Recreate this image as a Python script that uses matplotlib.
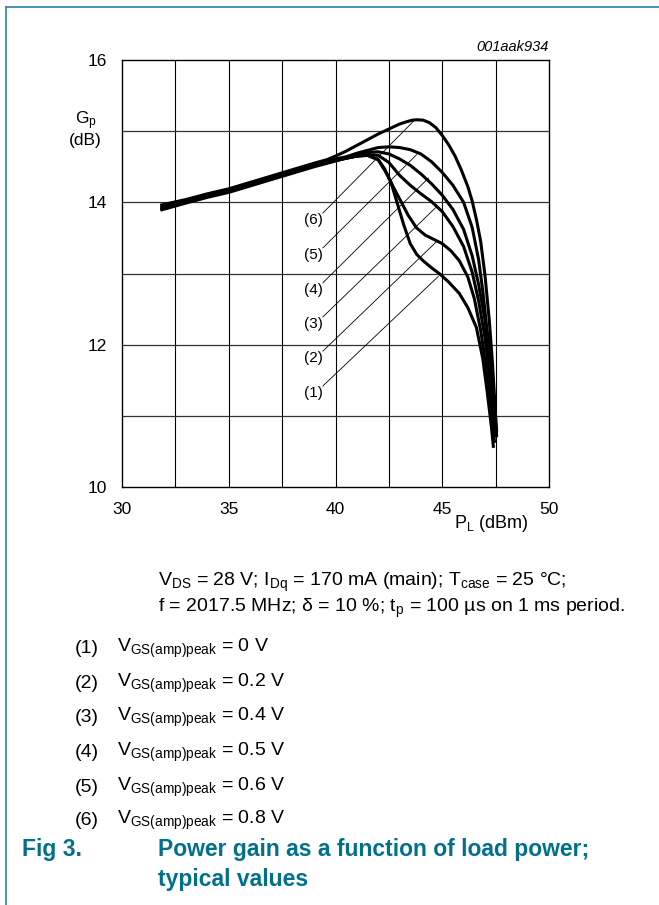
import matplotlib

matplotlib.use("Agg")
import matplotlib.pyplot as plt
from matplotlib.lines import Line2D

plt.rcParams.update({
    "font.family": ["Liberation Sans", "DejaVu Sans"],
    "mathtext.default": "regular",
    "font.size": 12.5,
})

W, H = 659, 905
TEAL = "#00708c"
FRAME = "#2b82a6"

# Gain curves, one per V_GS(amp)peak setting: (P_L dBm, G_p dB)
P1 = [31.8, 33, 34, 35, 36, 37, 38, 39, 40, 40.5, 41.0, 41.5, 42.0, 42.3, 42.6, 42.9, 43.2, 43.5, 43.8,
      44.1, 44.5, 44.9, 45.3, 45.8, 46.2, 46.6, 46.9, 47.1, 47.3, 47.4]
G1 = [13.89, 13.99, 14.07, 14.14, 14.23, 14.32, 14.41, 14.50, 14.58, 14.62, 14.65, 14.66, 14.60, 14.47, 14.28,
      13.98, 13.68, 13.42, 13.27, 13.18, 13.08, 12.99, 12.88, 12.72, 12.52, 12.24, 11.80, 11.35, 10.85, 10.55]

P2 = [31.8, 33, 34, 35, 36, 37, 38, 39, 40, 40.5, 41.0, 41.5, 42.0, 42.4, 42.7, 43.0, 43.4, 43.8, 44.2,
      44.6, 45.0, 45.4, 45.8, 46.2, 46.5, 46.8, 47.0, 47.2, 47.4, 47.45]
G2 = [13.90, 14.00, 14.08, 14.15, 14.24, 14.33, 14.42, 14.51, 14.59, 14.62, 14.65, 14.66, 14.60, 14.40, 14.22,
      14.05, 13.82, 13.64, 13.54, 13.48, 13.42, 13.32, 13.18, 12.95, 12.65, 12.20, 11.80, 11.30, 10.80, 10.62]

P3 = [31.8, 33, 34, 35, 36, 37, 38, 39, 40, 40.5, 41.0, 41.5, 42.0, 42.5, 43.0, 43.5, 44.0, 44.5, 45.0,
      45.5, 46.0, 46.4, 46.7, 47.0, 47.2, 47.4, 47.5]
G3 = [13.92, 14.01, 14.09, 14.16, 14.25, 14.34, 14.43, 14.52, 14.59, 14.62, 14.65, 14.67, 14.66, 14.56, 14.38,
      14.24, 14.12, 14.01, 13.87, 13.66, 13.38, 13.02, 12.62, 12.10, 11.60, 11.00, 10.70]

P4 = [31.8, 33, 34, 35, 36, 37, 38, 39, 40, 40.5, 41.0, 41.5, 42.0, 42.5, 43.0, 43.5, 44.0, 44.5, 45.0,
      45.5, 46.0, 46.4, 46.7, 47.0, 47.2, 47.4, 47.55]
G4 = [13.93, 14.02, 14.10, 14.17, 14.26, 14.35, 14.44, 14.53, 14.60, 14.63, 14.67, 14.70, 14.71, 14.68, 14.61,
      14.52, 14.40, 14.26, 14.10, 13.90, 13.62, 13.25, 12.85, 12.35, 11.85, 11.20, 10.72]

P5 = [31.8, 33, 34, 35, 36, 37, 38, 39, 40, 40.5, 41.0, 41.5, 42.0, 42.5, 43.0, 43.5, 44.0, 44.5, 45.0,
      45.5, 46.0, 46.4, 46.7, 46.9, 47.1, 47.25, 47.4, 47.55]
G5 = [13.95, 14.03, 14.11, 14.18, 14.27, 14.36, 14.45, 14.54, 14.61, 14.64, 14.69, 14.73, 14.77, 14.78, 14.77,
      14.74, 14.68, 14.57, 14.42, 14.24, 14.00, 13.65, 13.20, 12.75, 12.20, 11.90, 11.20, 10.70]

P6 = [31.8, 33, 34, 35, 36, 37, 38, 39, 39.6, 40.0, 40.5, 41.0, 41.5, 42.0, 42.5, 43.0, 43.3, 43.6, 43.8,
      44.1, 44.4, 44.7, 45.0, 45.3, 45.6, 45.9, 46.2, 46.4, 46.6, 46.8, 47.0, 47.2, 47.35, 47.5, 47.55]
G6 = [13.96, 14.04, 14.12, 14.19, 14.28, 14.37, 14.46, 14.55, 14.60, 14.65, 14.72, 14.80, 14.88, 14.96, 15.03,
      15.10, 15.13, 15.155, 15.16, 15.155, 15.12, 15.05, 14.94, 14.81, 14.65, 14.45, 14.22, 14.02, 13.76, 13.45,
      12.98, 12.35, 11.75, 11.00, 10.78]

CURVES = [(P1, G1), (P2, G2), (P3, G3), (P4, G4), (P5, G5), (P6, G6)]

# Curve tags and their leader lines
TAGS = ["(1)", "(2)", "(3)", "(4)", "(5)", "(6)"]
TAG_X = 38.95
TAG_Y = [11.32, 11.81, 12.29, 12.77, 13.26, 13.75]
LEAD_X0 = 39.41
LEAD_END_X = [44.82, 44.74, 44.74, 44.35, 43.80, 43.72]
LEAD_END_Y = [12.96, 13.45, 13.94, 14.34, 14.67, 15.16]

VGS = ["0", "0.2", "0.4", "0.5", "0.6", "0.8"]

fig = plt.figure(figsize=(W / 100, H / 100), dpi=100)
ax = fig.add_axes([122 / W, 1 - 487 / H, 427 / W, 427 / H])

ax.set_xlim(30, 50)
ax.set_ylim(10, 16)
ax.set_xticks([30, 35, 40, 45, 50])
ax.set_yticks([10, 12, 14, 16])
ax.tick_params(length=0, pad=11, labelsize=12.5)
for x in [32.5, 35, 37.5, 40, 42.5, 45, 47.5]:
    ax.axvline(x, color="black", lw=0.8, zorder=1)
for y in [11, 12, 13, 14, 15]:
    ax.axhline(y, color="#333333", lw=0.9, zorder=1)
for s in ax.spines.values():
    s.set_linewidth(1.0)

for p, g in CURVES:
    ax.plot(p, g, color="black", lw=2.2, solid_capstyle="butt", zorder=3)

for tag, ty, ex, ey in zip(TAGS, TAG_Y, LEAD_END_X, LEAD_END_Y):
    ax.text(TAG_X, ty, tag, ha="center", va="center", fontsize=11)
    ax.plot([LEAD_X0, ex], [ty + 0.1, ey], color="black", lw=0.6, zorder=4)

ax.text(-0.085, 0.84, "G$_{p}$\n(dB)", transform=ax.transAxes, ha="center", va="center",
        fontsize=12.5, linespacing=1.1)
ax.text(0.865, -0.085, "P$_{L}$ (dBm)", transform=ax.transAxes, ha="center", va="center", fontsize=13)
ax.text(1.0, 1.015, "001aak934", transform=ax.transAxes, ha="right", va="bottom",
        fontsize=10.5, style="italic")


def ftext(x, y, s, **kw):
    fig.text(x / W, 1 - y / H, s, va="center", **kw)


ftext(158, 582, "V$_{DS}$ = 28 V; I$_{Dq}$ = 170 mA (main); T$_{case}$ = 25 °C;", fontsize=14)
ftext(158, 608, "f = 2017.5 MHz; δ = 10 %; t$_{p}$ = 100 µs on 1 ms period.", fontsize=14)

item_y = [648, 683, 717, 752, 787, 820]
for tag, v, iy in zip(TAGS, VGS, item_y):
    ftext(75, iy, tag, fontsize=14)
    ftext(117, iy, "V$_{GS(amp)peak}$ = " + v + " V", fontsize=14)

ftext(22, 849, "Fig 3.", fontsize=16.5, fontweight="bold", color=TEAL)
ftext(158, 849, "Power gain as a function of load power;", fontsize=16.5, fontweight="bold", color=TEAL)
ftext(158, 879, "typical values", fontsize=16.5, fontweight="bold", color=TEAL)

# page frame (top and left rules)
fig.add_artist(Line2D([6 / W, 1], [1 - 7 / H, 1 - 7 / H], transform=fig.transFigure, color=FRAME, lw=1.2))
fig.add_artist(Line2D([6 / W, 6 / W], [0, 1 - 7 / H], transform=fig.transFigure, color=FRAME, lw=1.2))

fig.savefig("out.png", dpi=100)
